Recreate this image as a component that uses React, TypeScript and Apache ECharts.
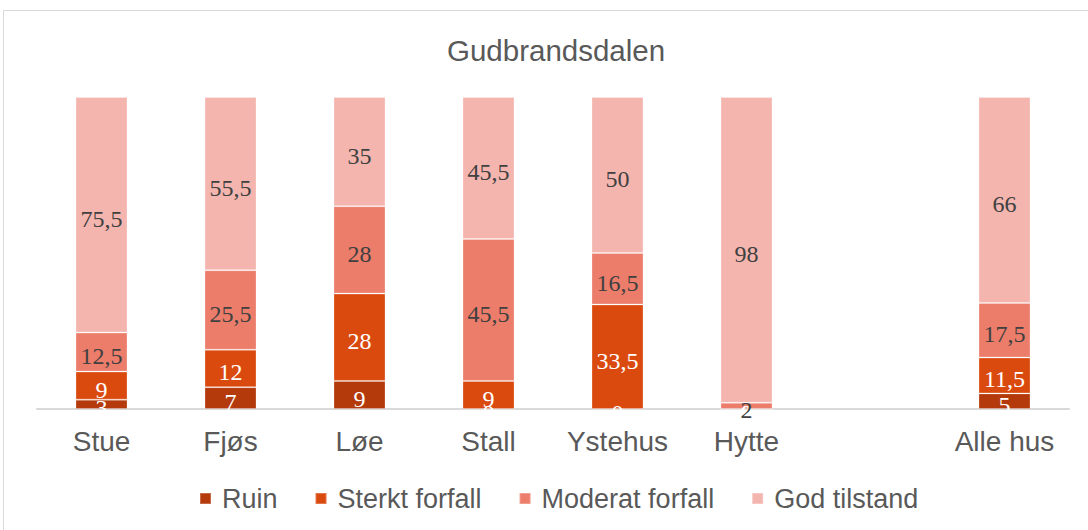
import React, { useEffect, useRef } from "react";
import * as echarts from "echarts";

const categories = ["Stue", "Fjøs", "Løe", "Stall", "Ystehus", "Hytte", "", "Alle hus"];
const seriesNames = ["Ruin", "Sterkt forfall", "Moderat forfall", "God tilstand"];
const ruin = [3, 7, 9, 0, 0, 0, null, 5];
const sterkt = [9, 12, 28, 9, 33.5, 0, null, 11.5];
const moderat = [12.5, 25.5, 28, 45.5, 16.5, 2, null, 17.5];
const god = [75.5, 55.5, 35, 45.5, 50, 98, null, 66];
const colors = ["#B4390B", "#DA4A0F", "#EC7D6B", "#F4B5AF"];
const labelColors = ["#ffffff", "#ffffff", "#404040", "#404040"];

const fmt = (v: number) => String(v).replace(".", ",");

export default function App() {
  const ref = useRef<HTMLDivElement>(null);
  useEffect(() => {
    if (!ref.current) return;
    const chart = echarts.init(ref.current, null, { renderer: "svg" });
    const data = [ruin, sterkt, moderat, god];
    chart.setOption({
      animation: false,
      backgroundColor: "#ffffff",
      graphic: [
        {
          type: "rect",
          shape: { x: 3.5, y: 10.5, width: 1200, height: 700 },
          style: { fill: "none", stroke: "#d9d9d9", lineWidth: 1 },
          silent: true,
        },
      ],
      title: {
        text: "Gudbrandsdalen",
        left: 442,
        top: 30,
        textStyle: { fontFamily: "Liberation Sans, Arial", fontSize: 29.5, fontWeight: "normal", color: "#595959" },
      },
      legend: {
        left: 194,
        top: 480,
        itemWidth: 11,
        itemHeight: 11,
        itemGap: 37,
        icon: "rect",
        data: seriesNames,
        textStyle: { fontFamily: "Liberation Sans, Arial", fontSize: 27, color: "#595959", padding: [0, 0, 0, 6] },
      },
      grid: { left: 37, right: 19, top: 97, bottom: 121, containLabel: false },
      xAxis: {
        type: "category",
        data: categories,
        axisLine: { lineStyle: { color: "#d9d9d9", width: 2 } },
        axisTick: { show: false },
        axisLabel: { fontFamily: "Liberation Sans, Arial", fontSize: 28, color: "#595959", margin: 18, interval: 0 },
      },
      yAxis: {
        type: "value",
        min: 0,
        max: 100,
        show: false,
        splitLine: { show: false },
      },
      series: seriesNames.map((name, i) => ({
        name,
        type: "bar",
        stack: "total",
        barWidth: 52,
        data: data[i],
        itemStyle: { color: colors[i], borderColor: "rgba(255,255,255,0.25)", borderWidth: 1 },
        label: {
          show: true,
          position: "inside",
          offset: [0, 4],
          formatter: (p: any) => fmt(p.value),
          fontFamily: "Liberation Serif, Times New Roman, serif",
          fontSize: 24,
          color: labelColors[i],
        },
      })),
    });
    return () => chart.dispose();
  }, []);
  return (
    <div
      ref={ref}
      style={{ position: "fixed", left: 0, top: 0, width: 1088, height: 530 }}
    />
  );
}
